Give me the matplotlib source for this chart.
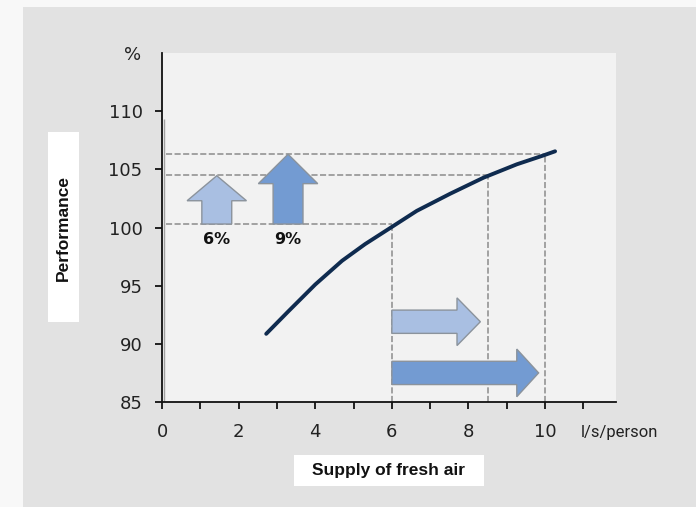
import matplotlib.pyplot as plt
from matplotlib.patches import FancyArrow, Rectangle
import numpy as np

W, H = 696, 507

# curve
curve_x = [2.72, 3.30, 4.00, 4.70, 5.30, 5.91, 6.65, 7.52, 8.39, 9.26, 9.96, 10.26]
curve_y = [90.86, 92.8, 95.1, 97.14, 98.57, 99.86, 101.43, 102.9, 104.28, 105.43, 106.2, 106.55]

perf_levels = [100.3, 104.5, 106.3]
air_levels = [6.0, 8.5, 10.0]

y_ticks = [85, 90, 95, 100, 105, 110]
x_ticks = list(range(0, 12))
x_labels = [str(v) if v % 2 == 0 else '' for v in x_ticks]

gain_labels = ['6%', '9%']
gain_x = [1.43, 3.29]
gain_top = [104.45, 106.3]

air_y = [91.9, 87.5]
air_end = [8.31, 9.83]

light = '#a9bfe2'
dark = '#739bd2'
edge = '#8b939c'


def px(x, y):
    # figure pixel -> figure fraction
    return x / W, 1 - y / H


fig = plt.figure(figsize=(W / 100, H / 100), dpi=100)
fig.patch.set_facecolor('#f8f8f8')
fig.patches.append(Rectangle(px(23, H), (W - 23) / W, (H - 7) / H, transform=fig.transFigure,
                             facecolor='#e2e2e2', edgecolor='none', zorder=-10))

x0, y0 = px(162, 402)
ax = fig.add_axes([x0, y0, (616 - 162) / W, (402 - 53) / H])
ax.set_facecolor('#f2f2f2')
ax.set_xlim(0, 11.85)
ax.set_ylim(85, 115)

for s in ['top', 'right']:
    ax.spines[s].set_visible(False)
for s in ['left', 'bottom']:
    ax.spines[s].set_linewidth(1.3)
    ax.spines[s].set_color('#111111')

ax.set_yticks(y_ticks)
ax.set_xticks(x_ticks)
ax.set_xticklabels(x_labels)
ax.tick_params(axis='y', length=5, width=1.2, pad=9, labelsize=13, labelcolor='#222222')
ax.tick_params(axis='x', length=5, width=1.2, pad=10, labelsize=13, labelcolor='#222222')

ax.text(-0.55, 114.8, '%', ha='right', va='center', fontsize=13, color='#222222')

# faint shadow line along the y axis
ax.vlines(0.06, 85, 109.3, color='#a0a0a0', lw=1.0, zorder=1)

# dashed guide lines
for lvl, ax_x in zip(perf_levels, air_levels):
    ax.hlines(lvl, 0.1, ax_x, colors='#8c8c8c', linestyles=(0, (4, 1.6)), lw=1.1, zorder=2)
    ax.vlines(ax_x, 85, lvl, colors='#8c8c8c', linestyles=(0, (4, 1.6)), lw=1.1, zorder=2)

ax.plot(curve_x, curve_y, color='#0f2b4f', lw=2.8, solid_capstyle='round', zorder=5)

# up arrows
head_len = [2.15, 2.53]
for i, (gx, top) in enumerate(zip(gain_x, gain_top)):
    col = light if i == 0 else dark
    ax.add_patch(FancyArrow(gx, perf_levels[0], 0, top - perf_levels[0], width=0.78,
                            head_width=1.55, head_length=head_len[i], length_includes_head=True,
                            facecolor=col, edgecolor=edge, lw=1.0, zorder=3))
    ax.text(gx, 99.0, gain_labels[i], ha='center', va='center', fontsize=11.5,
            fontweight='bold', color='#111111')

# right arrows
head_len_x = [0.61, 0.57]
for i, (ay, end) in enumerate(zip(air_y, air_end)):
    col = light if i == 0 else dark
    ax.add_patch(FancyArrow(air_levels[0], ay, end - air_levels[0], 0, width=2.0,
                            head_width=4.1, head_length=head_len_x[i], length_includes_head=True,
                            facecolor=col, edgecolor=edge, lw=1.0, zorder=3))

fig.text(*px(581, 433), 'l/s/person', ha='left', va='center', fontsize=12,
         family=['Roboto', 'DejaVu Sans'], color='#222222')

# label boxes
fig.patches.append(Rectangle(px(294, 486), 190 / W, 31 / H, transform=fig.transFigure,
                             facecolor='white', edgecolor='none', zorder=1))
fig.text(*px(388, 470), 'Supply of fresh air', ha='center', va='center', fontsize=12.5,
         fontweight='bold', family=['Liberation Sans', 'DejaVu Sans'], color='#111111')

fig.patches.append(Rectangle(px(48, 322), 31 / W, 190 / H, transform=fig.transFigure,
                             facecolor='white', edgecolor='none', zorder=1))
fig.text(*px(63.5, 228), 'Performance', ha='center', va='center', fontsize=12.5, rotation=90,
         fontweight='bold', family=['Liberation Sans', 'DejaVu Sans'], color='#111111')

fig.savefig('out.png', dpi=100, facecolor=fig.get_facecolor())
